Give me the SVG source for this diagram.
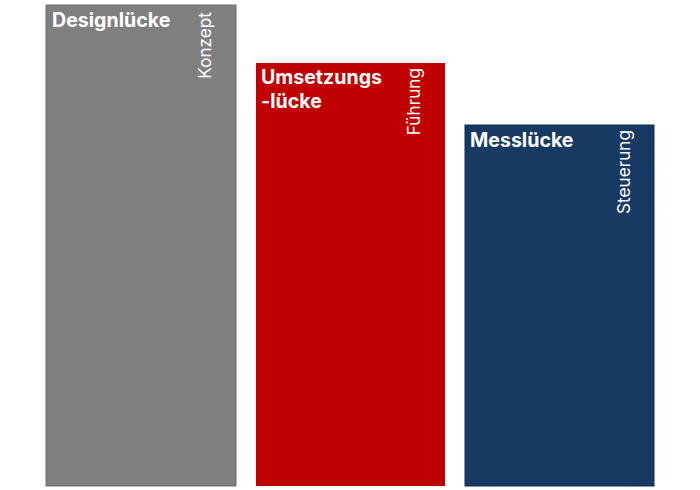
<svg xmlns="http://www.w3.org/2000/svg" width="700" height="490" viewBox="0 0 700 490">
<style>
.t{font-family:Inter,"Open Sans","Liberation Sans",sans-serif;font-weight:bold;font-size:19.6px;fill:#fff}
.v{font-family:Inter,"Open Sans","Liberation Sans",sans-serif;font-size:17.2px;fill:#fff}
</style>
<rect width="700" height="490" fill="#fff"/>
<g id="designluecke">
<rect x="46" y="5" width="190" height="481" fill="#7f7f7f" stroke="#6e6e6e" stroke-width="1"/>
<text class="t" x="52" y="27">Designlücke</text>
<text class="v" text-anchor="end" transform="translate(211,12) rotate(-90)">Konzept</text>
</g>
<g id="umsetzungsluecke">
<rect x="256" y="63" width="189" height="423" fill="#c00000"/>
<text class="t" x="261" y="84"><tspan x="261" y="84">Umsetzungs</tspan><tspan x="261" y="108">-lücke</tspan></text>
<text class="v" text-anchor="end" transform="translate(420,68) rotate(-90)">Führung</text>
</g>
<g id="messluecke">
<rect x="465" y="125" width="189" height="361" fill="#173a63" stroke="#0f2d52" stroke-width="1"/>
<text class="t" x="470" y="147">Messlücke</text>
<text class="v" text-anchor="end" transform="translate(630,130) rotate(-90)">Steuerung</text>
</g>
<g id="connectors"/>
</svg>
